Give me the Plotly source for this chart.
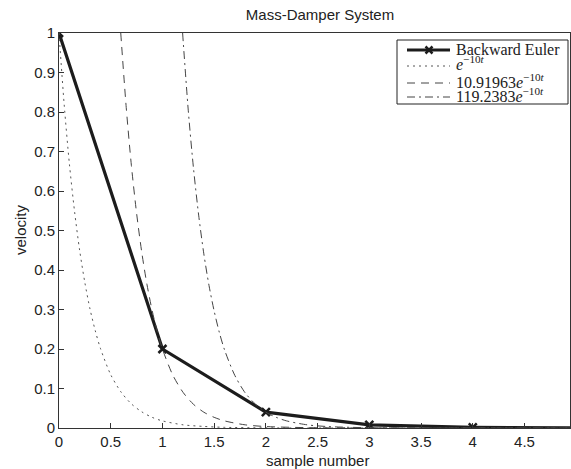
import plotly.graph_objects as go

# Backward Euler samples
be_x = [0, 1, 2, 3, 4, 5]
be_y = [1.0, 0.2, 0.04, 0.008, 0.0016, 0.0003]

# e^{-10t} (dotted)
e1_x = [0, 0.05, 0.1, 0.15, 0.2, 0.25, 0.3, 0.35, 0.4, 0.5, 0.6, 0.7, 0.8, 0.9, 1.0, 1.2, 1.4, 1.6, 2.0, 2.5, 3.0, 5.0]
e1_y = [1.0, 0.819, 0.670, 0.549, 0.449, 0.368, 0.301, 0.247, 0.202, 0.135, 0.091, 0.061, 0.041, 0.027, 0.018, 0.008, 0.004, 0.0017, 0.0003, 0.00005, 0.0, 0.0]

# 10.91963 e^{-10t} (dashed)
e2_x = [0.597, 0.65, 0.7, 0.75, 0.8, 0.85, 0.9, 0.95, 1.0, 1.1, 1.2, 1.3, 1.4, 1.5, 1.6, 1.8, 2.0, 2.5, 3.0, 5.0]
e2_y = [1.0, 0.811, 0.664, 0.544, 0.445, 0.364, 0.298, 0.244, 0.2, 0.134, 0.090, 0.060, 0.040, 0.027, 0.018, 0.008, 0.0037, 0.0005, 0.0001, 0.0]

# 119.2383 e^{-10t} (dash-dot)
e3_x = [1.195, 1.25, 1.3, 1.35, 1.4, 1.45, 1.5, 1.55, 1.6, 1.7, 1.8, 1.9, 2.0, 2.1, 2.2, 2.4, 2.6, 3.0, 3.5, 5.0]
e3_y = [1.0, 0.803, 0.658, 0.539, 0.441, 0.361, 0.296, 0.242, 0.198, 0.133, 0.089, 0.060, 0.04, 0.027, 0.018, 0.008, 0.0036, 0.0007, 0.0001, 0.0]

x_ticks = [0, 0.5, 1, 1.5, 2, 2.5, 3, 3.5, 4, 4.5]
x_tick_text = ["0", "0.5", "1", "1.5", "2", "2.5", "3", "3.5", "4", "4.5"]
y_ticks = [0, 0.1, 0.2, 0.3, 0.4, 0.5, 0.6, 0.7, 0.8, 0.9, 1.0]
y_tick_text = ["0", "0.1", "0.2", "0.3", "0.4", "0.5", "0.6", "0.7", "0.8", "0.9", "1"]

names = [
    "Backward Euler",
    "<i>e</i><sup>−10<i>t</i></sup>",
    "10.91963<i>e</i><sup>−10<i>t</i></sup>",
    "119.2383<i>e</i><sup>−10<i>t</i></sup>",
]

W, H = 571, 469
L, R, T, B = 59, 1, 33, 41
PW, PH = W - L - R, H - T - B


def px(x):
    return (x - L) / PW


def py(y):
    return 1 - (y - T) / PH


DARK = "#1c1c1c"
GREY = "#444444"
styles = [
    dict(color=DARK, width=3.2, dash="solid"),
    dict(color="#555555", width=1, dash="2px,4px"),
    dict(color=GREY, width=1, dash="8px,6px"),
    dict(color=GREY, width=1, dash="8px,4px,2px,4px"),
]

fig = go.Figure()
fig.add_trace(go.Scatter(x=be_x, y=be_y, mode="lines+markers", name=names[0], showlegend=False,
                         line=styles[0],
                         marker=dict(symbol="x-thin", size=8, color=DARK,
                                     line=dict(width=2.5, color=DARK))))
for xs, ys, nm, st in [(e1_x, e1_y, names[1], styles[1]),
                       (e2_x, e2_y, names[2], styles[2]),
                       (e3_x, e3_y, names[3], styles[3])]:
    fig.add_trace(go.Scatter(x=xs, y=ys, mode="lines", name=nm, showlegend=False,
                             line=dict(**st, shape="spline", smoothing=0.8)))

# Legend box drawn by hand (MATLAB-style compact legend)
shapes = [dict(type="rect", xref="paper", yref="paper", x0=px(397), x1=px(568), y0=py(40), y1=py(104),
               line=dict(color="#222222", width=1), fillcolor="white", layer="above")]
row_y = [50, 66, 83, 97]
row_base = [54, 68.5, 87, 101]
for ry, st in zip(row_y, styles):
    shapes.append(dict(type="line", xref="paper", yref="paper", x0=px(407), x1=px(450), y0=py(ry), y1=py(ry),
                       line=st, layer="above"))
# marker in legend sample
for dx in (-1, 1):
    shapes.append(dict(type="line", xref="paper", yref="paper", x0=px(429 - 3.5), x1=px(429 + 3.5),
                       y0=py(row_y[0] - 3.5 * dx), y1=py(row_y[0] + 3.5 * dx),
                       line=dict(color=DARK, width=2.5), layer="above"))

leg_font = dict(family="Liberation Serif, Times New Roman, serif", size=16, color="#222222")
axis_font = dict(family="Liberation Sans, Arial, sans-serif", size=15, color="#222222")
annotations = []
for rb, nm in zip(row_base, names):
    annotations.append(dict(text=nm, xref="paper", yref="paper", x=px(455), y=py(rb + 5), xanchor="left",
                            yanchor="bottom", showarrow=False, font=leg_font, borderpad=0))
annotations += [
    dict(text="sample number", xref="paper", yref="paper", x=px(317), y=py(460),
         xanchor="center", yanchor="middle", showarrow=False, font=axis_font),
    dict(text="velocity", xref="paper", yref="paper", x=px(20), y=py(230),
         xanchor="center", yanchor="middle", textangle=-90, showarrow=False, font=axis_font),
]

fig.update_layout(
    width=W, height=H,
    margin=dict(l=L, r=R, t=T, b=B),
    paper_bgcolor="white", plot_bgcolor="white",
    showlegend=False,
    title=dict(text="Mass-Damper System", x=320 / W, xref="container", xanchor="center",
               y=1 - 15 / H, yref="container", yanchor="middle", font=axis_font),
    xaxis=dict(range=[0, 4.94], tickvals=x_ticks, ticktext=x_tick_text, ticks="inside",
               ticklen=5, tickcolor="#333333", showline=True, linecolor="#333333", linewidth=1,
               mirror=True, showgrid=False, zeroline=False, tickfont=axis_font),
    yaxis=dict(range=[0, 1], tickvals=y_ticks, ticktext=y_tick_text, ticks="inside",
               ticklen=5, tickcolor="#333333", showline=True, linecolor="#333333", linewidth=1,
               mirror=True, showgrid=False, zeroline=False, tickfont=axis_font),
    shapes=shapes,
    annotations=annotations,
)

fig.write_html("out.html")
